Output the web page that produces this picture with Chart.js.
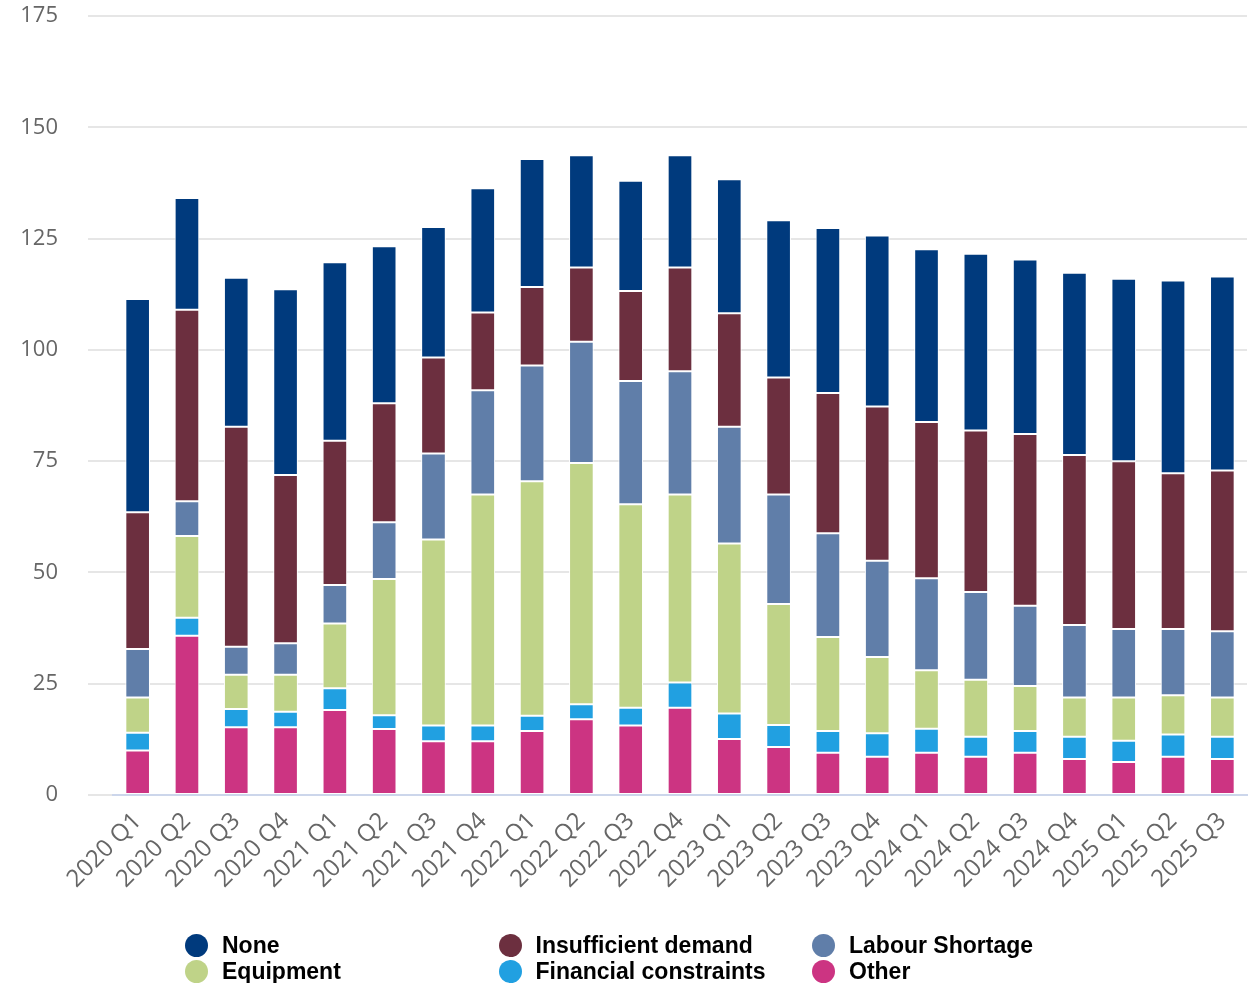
<!DOCTYPE html>
<html>
<head>
<meta charset="utf-8">
<script src="https://cdn.jsdelivr.net/npm/chart.js@4.4.1/dist/chart.umd.min.js"></script>
<style>
  body { margin: 0; background: #fff; }
  #wrap { position: relative; width: 1255px; height: 983px; }
  #legend { position: absolute; left: 0; top: 0; width: 1255px; height: 983px; pointer-events: none; }
  .lg-item { position: absolute; display: flex; align-items: center; font: bold 23px "Liberation Sans", Arial, sans-serif; color: #000; white-space: nowrap; }
  .lg-dot { width: 23px; height: 23px; border-radius: 50%; margin-right: 14px; }
</style>
</head>
<body>
<div id="wrap">
  <canvas id="chart" width="1255" height="983"></canvas>
  <div id="legend"></div>
</div>
<script>
var quarters = ['2020 Q1','2020 Q2','2020 Q3','2020 Q4','2021 Q1','2021 Q2','2021 Q3','2021 Q4',
  '2022 Q1','2022 Q2','2022 Q3','2022 Q4','2023 Q1','2023 Q2','2023 Q3','2023 Q4',
  '2024 Q1','2024 Q2','2024 Q3','2024 Q4','2025 Q1','2025 Q2','2025 Q3'];

// stacked bottom to top
var other        = [10, 35.8, 15.2, 15.2, 19.1, 14.8, 12.1, 12.1, 14.4, 17, 15.6, 19.6, 12.6, 10.8, 9.5, 8.6, 9.5, 8.6, 9.5, 8.1, 7.4, 8.6, 8.1];
var financial    = [4, 4, 4.1, 3.5, 4.9, 3.1, 3.5, 3.5, 3.4, 3.4, 4, 5.7, 5.7, 4.9, 4.9, 5.3, 5.4, 4.5, 4.9, 5, 4.8, 5, 5];
var equipment    = [7.9, 18.4, 7.7, 8.3, 14.5, 30.6, 41.8, 51.9, 52.7, 54.2, 45.7, 42.2, 38.2, 27.2, 21.1, 17.1, 13.1, 12.8, 10.1, 8.8, 9.7, 8.8, 8.8];
var labour       = [10.9, 7.8, 6.3, 7.1, 8.7, 12.8, 19.3, 23.4, 26, 27.2, 27.7, 27.7, 26.2, 24.6, 23.3, 21.6, 20.7, 19.7, 18, 16.3, 15.4, 14.9, 14.9];
var insufficient = [30.7, 43, 49.4, 37.8, 32.4, 26.7, 21.6, 17.5, 17.6, 16.7, 20.2, 23.3, 25.5, 26.3, 31.5, 34.7, 35.1, 36.3, 38.6, 38.2, 37.7, 35, 36.1];
var none         = [47.9, 25.1, 33.5, 41.7, 40.1, 35.3, 29.3, 27.9, 28.8, 25.2, 24.8, 25.2, 30.1, 35.3, 37.1, 38.4, 38.8, 39.7, 39.2, 40.9, 41, 43.3, 43.6];

var yTicks = [0, 25, 50, 75, 100, 125, 150, 175];

var series = [
  {label: 'Other', data: other, color: '#cc3482'},
  {label: 'Financial constraints', data: financial, color: '#21a0e1'},
  {label: 'Equipment', data: equipment, color: '#bfd388'},
  {label: 'Labour Shortage', data: labour, color: '#607ea9'},
  {label: 'Insufficient demand', data: insufficient, color: '#6c2f3f'},
  {label: 'None', data: none, color: '#003a7d'}
];
var legendOrder = ['None', 'Insufficient demand', 'Labour Shortage', 'Equipment', 'Financial constraints', 'Other'];

var chart = new Chart(document.getElementById('chart'), {
  type: 'bar',
  data: {
    labels: quarters,
    datasets: series.map(function(s){
      return {
        label: s.label,
        data: s.data,
        backgroundColor: s.color,
        borderColor: '#ffffff',
        borderWidth: 1,
        borderSkipped: false,
        barPercentage: 0.5,
        categoryPercentage: 1
      };
    })
  },
  options: {
    responsive: false,
    animation: false,
    layout: {padding: {left: 0, right: 8, top: 16, bottom: 0}},
    plugins: {
      legend: {display: false},
      tooltip: {enabled: false}
    },
    scales: {
      x: {
        stacked: true,
        grid: {display: false},
        border: {color: '#ccd6eb', width: 2},
        ticks: {minRotation: 45, maxRotation: 45, autoSkip: false, color: '#666',
          font: {family: '"Open Sans", sans-serif', size: 24}, padding: 4},
        afterFit: function(axis){ axis.height = 188; }
      },
      y: {
        stacked: true,
        min: yTicks[0],
        max: yTicks[yTicks.length - 1],
        afterBuildTicks: function(axis){ axis.ticks = yTicks.map(function(v){ return {value: v}; }); },
        grid: {color: '#e6e6e6', lineWidth: 2, tickLength: 25, tickColor: '#e6e6e6'},
        border: {display: false},
        ticks: {padding: 30, color: '#666', font: {family: '"Open Sans", sans-serif', size: 22}},
        afterFit: function(axis){
          axis.width = 113;
          axis.paddingTop = 0;
          axis.paddingBottom = 0;
        }
      }
    }
  }
});

// legend in three columns, two rows
var lg = document.getElementById('legend');
legendOrder.forEach(function(name, i){
  var s = series.filter(function(d){ return d.label === name; })[0];
  var item = document.createElement('div');
  item.className = 'lg-item';
  item.style.left = (185 + (i % 3) * 313.5) + 'px';
  item.style.top = (932 + Math.floor(i / 3) * 26) + 'px';
  var dot = document.createElement('span');
  dot.className = 'lg-dot';
  dot.style.background = s.color;
  var txt = document.createElement('span');
  txt.textContent = s.label;
  item.appendChild(dot);
  item.appendChild(txt);
  lg.appendChild(item);
});
</script>
</body>
</html>
